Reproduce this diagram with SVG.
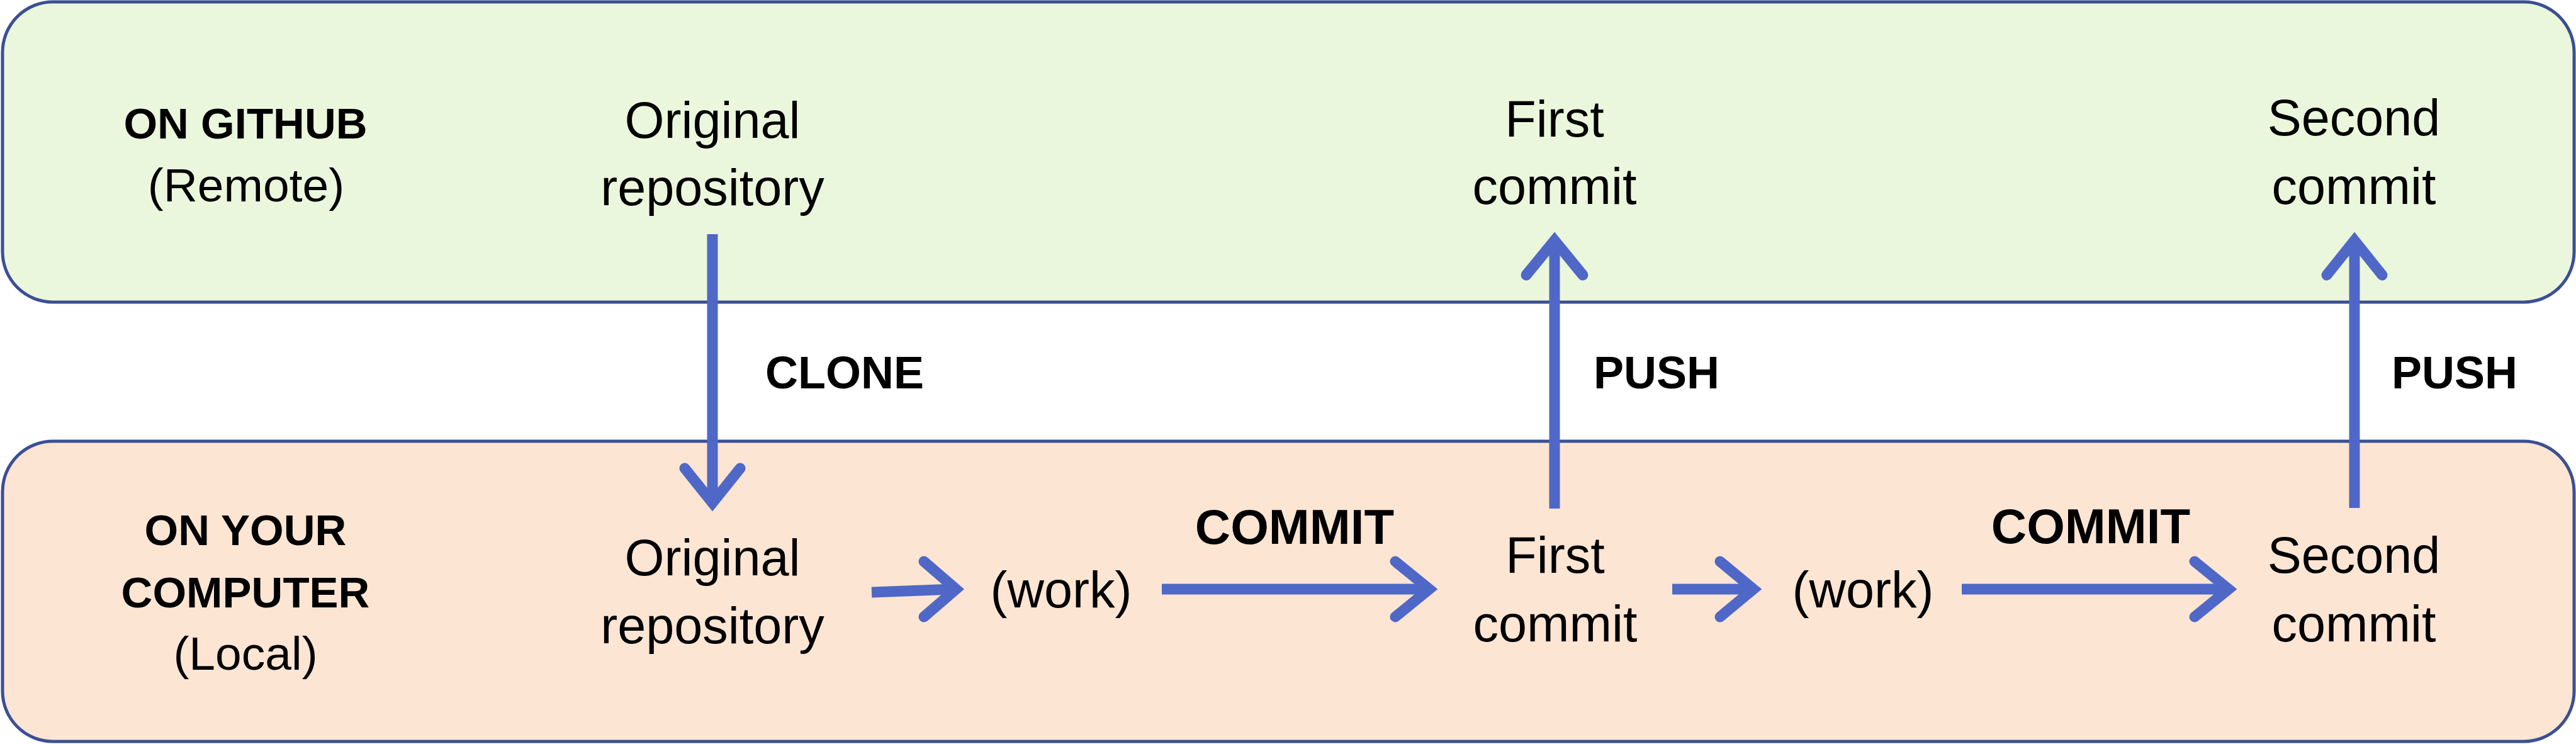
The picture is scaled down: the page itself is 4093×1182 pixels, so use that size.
<svg xmlns="http://www.w3.org/2000/svg" width="4093" height="1182" viewBox="0 0 4093 1182">
<defs>
<style>
.box{stroke:#3B4F95;stroke-width:5}
.t{font-family:"Liberation Sans",Arial,sans-serif;font-size:81px;fill:#000;text-anchor:middle}
.sub{font-size:75px}
.b{font-family:"Liberation Sans",Arial,sans-serif;font-weight:bold;font-size:69px;fill:#000;text-anchor:middle}
.act{font-family:"Liberation Sans",Arial,sans-serif;font-weight:bold;font-size:72px;fill:#000}
.ln{stroke:#4F68C7;stroke-width:17;fill:none}
.hd{stroke:#4F68C7;stroke-width:17;fill:none;stroke-linecap:round;stroke-linejoin:miter;stroke-miterlimit:10}
</style>
</defs>
<rect width="4093" height="1182" fill="#FFFFFF"/>
<g id="remote">
<rect class="box" x="4" y="3" width="4086" height="477" rx="80" ry="80" fill="#EBF7DC"/>
<text class="b" x="390" y="220">ON GITHUB</text>
<text class="t sub" x="391" y="320">(Remote)</text>
</g>
<g id="local">
<rect class="box" x="4" y="701" width="4086" height="477" rx="80" ry="80" fill="#FDE5D3"/>
<text class="b" x="390" y="866">ON YOUR</text>
<text class="b" x="390" y="965">COMPUTER</text>
<text class="t sub" x="390" y="1064">(Local)</text>
</g>
<g id="remote-original">
<text class="t" x="1132" y="219">Original</text>
<text class="t" x="1132" y="326">repository</text>
</g>
<g id="remote-first">
<text class="t" x="2470" y="217">First</text>
<text class="t" x="2470" y="324">commit</text>
</g>
<g id="remote-second">
<text class="t" x="3740" y="215">Second</text>
<text class="t" x="3740" y="324">commit</text>
</g>
<g id="local-original">
<text class="t" x="1132" y="914">Original</text>
<text class="t" x="1132" y="1022">repository</text>
</g>
<g id="work1">
<text class="t" x="1686" y="965">(work)</text>
</g>
<g id="local-first">
<text class="t" x="2471" y="910">First</text>
<text class="t" x="2471" y="1019">commit</text>
</g>
<g id="work2">
<text class="t" x="2960" y="965">(work)</text>
</g>
<g id="local-second">
<text class="t" x="3740" y="910">Second</text>
<text class="t" x="3740" y="1019">commit</text>
</g>
<g id="connectors">
<line class="ln" x1="1132" y1="372" x2="1132" y2="795"/>
<polyline class="hd" points="1088,744 1132,799 1176,744"/>
<text class="act" x="1216" y="617">CLONE</text>
<line class="ln" x1="1385" y1="941" x2="1515" y2="936"/>
<polyline class="hd" points="1468,892 1519,936 1468,980"/>
<line class="ln" x1="1846" y1="936" x2="2266" y2="936"/>
<polyline class="hd" points="2217,892 2271,936 2217,980"/>
<text class="act" x="2057" y="864" style="text-anchor:middle;font-size:78px">COMMIT</text>
<line class="ln" x1="2470" y1="808" x2="2470" y2="386"/>
<polyline class="hd" points="2425,437 2470,382 2515,437"/>
<text class="act" x="2532" y="617">PUSH</text>
<line class="ln" x1="2657" y1="936" x2="2782" y2="936"/>
<polyline class="hd" points="2733,892 2786,936 2733,980"/>
<line class="ln" x1="3117" y1="936" x2="3536" y2="936"/>
<polyline class="hd" points="3487,892 3541,936 3487,980"/>
<text class="act" x="3322" y="863" style="text-anchor:middle;font-size:78px">COMMIT</text>
<line class="ln" x1="3741" y1="807" x2="3741" y2="386"/>
<polyline class="hd" points="3697,437 3741,382 3785,437"/>
<text class="act" x="3800" y="617">PUSH</text>
</g>
</svg>
